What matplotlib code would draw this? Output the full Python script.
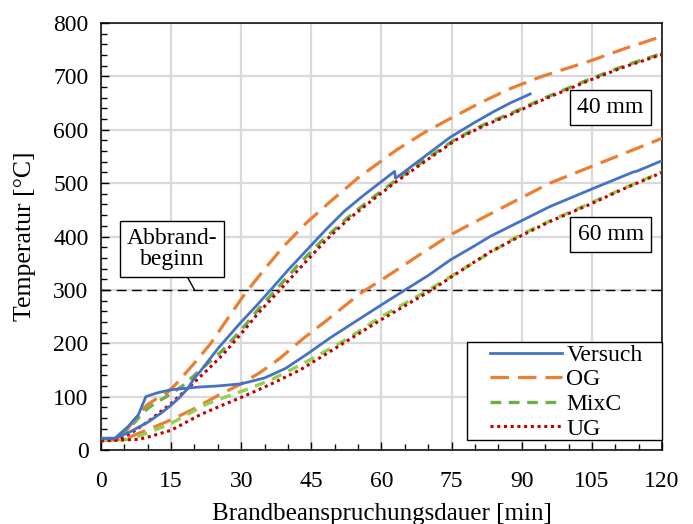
import matplotlib
matplotlib.use('Agg')
import matplotlib.pyplot as plt
from matplotlib.patches import Rectangle
from matplotlib.ticker import MultipleLocator

plt.rcParams['font.family'] = ['Liberation Serif', 'DejaVu Serif']
plt.rcParams['font.size'] = 17

# Messwerte / Simulation, 40 mm Tiefe
t_v40 = [0, 3, 6, 10, 13, 15, 17, 18.6, 20, 21.2, 25, 29.7, 33, 36.1, 40, 44.7, 48, 52, 56, 60,
         62.8, 63.0, 65, 70, 74.7, 80, 84, 87.5, 91.8]
T_v40 = [22, 22, 33, 52, 70, 84, 100, 116, 135, 147, 190, 237, 268, 298, 337, 381, 412, 447, 476, 503,
         522, 509, 522, 555, 586, 614, 634, 650, 667]

t_og40 = [0, 3, 5, 7, 9.8, 12, 14, 16.2, 20, 23.5, 27, 30.8, 35, 39, 44, 49, 55, 63.2, 69, 74.7,
          81, 87.5, 94, 100, 105, 112, 120]
T_og40 = [18, 19, 31, 55, 84, 97, 106, 125, 163, 200, 245, 293, 339, 381, 426, 465, 510, 562, 594, 621,
          650, 677, 699, 716, 730, 752, 775]

t_mx40 = [0, 3, 6, 8, 10, 12, 14, 17.3, 21, 25.8, 30, 33.5, 37.4, 42, 47, 52.6, 58, 63.2, 70, 76.1,
          82, 87.5, 95, 104.6, 112, 120]
T_mx40 = [20, 22, 40, 60, 78, 90, 100, 119, 148, 185, 225, 262, 300, 345, 390, 434, 472, 506, 548, 584,
          610, 630, 660, 695, 720, 743]

t_ug40 = [0, 4, 7, 10, 12.5, 15, 17.5, 20.1, 23, 26.2, 30, 34, 38.3, 43, 48, 52.6, 58, 63.2, 70, 76.1,
          82, 87.5, 95, 104.6, 112, 120]
T_ug40 = [18, 20, 35, 53, 70, 87, 107, 128, 152, 180, 218, 260, 300, 345, 392, 430, 468, 503, 545, 582,
          608, 628, 658, 693, 718, 741]

# 60 mm Tiefe
t_v60 = [0, 3, 5.8, 8, 9.6, 12, 15, 18.6, 21, 25, 30, 35, 39.5, 44.3, 49, 54.3, 60, 64.7, 70, 74.7,
         80, 83.2, 89.6, 96, 105, 110, 113.9, 114.5, 120]
T_v60 = [22, 22, 44, 66, 100, 107, 113, 116, 118, 120, 124, 135, 153, 181, 210, 240, 272, 298, 327, 356,
         383, 400, 428, 456, 489, 507, 521, 522, 542]

t_og60 = [0, 5, 8, 10, 15.1, 19.4, 25, 30, 34, 38.3, 43, 48.3, 55.4, 62, 68, 74.7, 81, 88.9, 96,
          104, 112, 120]
T_og60 = [18, 20, 31, 38, 57, 75, 102, 124, 145, 172, 207, 243, 293, 330, 365, 403, 432, 468, 500,
          528, 556, 584]

t_mx60 = [0, 6, 10, 15, 22.6, 26.5, 30.4, 36, 42.6, 48, 52.6, 60, 69.7, 78, 89.6, 96, 104, 112, 120]
T_mx60 = [18, 20, 32, 50, 86, 99, 111, 130, 159, 185, 208, 250, 298, 342, 403, 429, 460, 491, 521]

t_ug60 = [0, 8, 10, 15, 21.2, 26.5, 30.4, 36, 42.6, 50, 59.7, 70.4, 77, 83.2, 90, 96, 104, 112, 120]
T_ug60 = [17, 20, 24, 37, 66, 86, 100, 122, 150, 190, 243, 298, 336, 371, 402, 428, 458, 490, 520]

abbrand_T = 300

c_versuch = '#4472C4'
c_og = '#ED7D31'
c_mx40 = '#70AD47'
c_mx60 = '#92D050'
c_ug = '#C00000'

fig = plt.figure(figsize=(6.93, 5.24), dpi=100)
ax = fig.add_axes([0.1457, 0.1412, 0.8096, 0.8149])

# Abbrandbeginn
ax.axhline(abbrand_T, color='black', lw=1.0, dashes=(7, 4), zorder=2)

og_kw = dict(color=c_og, lw=2.3, dashes=(5.8, 2.8))
mx_kw = dict(lw=2.4, dashes=(3.2, 2.3))
ug_kw = dict(color=c_ug, lw=2.2, dashes=(1, 1.2))
v_kw = dict(color=c_versuch, lw=2.0)

ax.plot(t_og40, T_og40, **og_kw, zorder=3)
ax.plot(t_og60, T_og60, **og_kw, zorder=3)
ax.plot(t_mx40, T_mx40, color=c_mx40, **mx_kw, zorder=4)
ax.plot(t_mx60, T_mx60, color=c_mx60, **mx_kw, zorder=4)
ax.plot(t_ug40, T_ug40, **ug_kw, zorder=5)
ax.plot(t_ug60, T_ug60, **ug_kw, zorder=5)
ax.plot(t_v40, T_v40, **v_kw, zorder=6)
ax.plot(t_v60, T_v60, **v_kw, zorder=6)

# legend: frame drawn separately so the side padding can be wider than top/bottom
h_v, = ax.plot([], [], **v_kw)
h_og, = ax.plot([], [], **og_kw)
h_mx, = ax.plot([], [], color=c_mx40, **mx_kw)
h_ug, = ax.plot([], [], **ug_kw)
ax.add_patch(Rectangle((0.652, 0.0234), 0.348, 0.2295, transform=ax.transAxes,
                       fc='white', ec='black', lw=1.0, zorder=9, clip_on=False))
leg = ax.legend([h_v, h_og, h_mx, h_ug], ['Versuch', 'OG', 'MixC', 'UG'],
                loc='center', bbox_to_anchor=(0.829, 0.136), frameon=False,
                handlelength=3.05, handletextpad=0.2, labelspacing=0.13,
                borderpad=0.0, borderaxespad=0.0, fontsize=17)
leg.set_zorder(10)

box = dict(boxstyle='square,pad=0.3', fc='white', ec='black', lw=1.0)
ax.text(109, 642, '40 mm', ha='center', va='center', bbox=box, zorder=8)
ax.text(109, 403, '60 mm', ha='center', va='center', bbox=box, zorder=8)
ax.annotate('Abbrand-\nbeginn', xy=(20, abbrand_T), xytext=(15.2, 376),
            ha='center', va='center', linespacing=1.0, bbox=box, zorder=8,
            arrowprops=dict(arrowstyle='-', color='black', lw=1.0, shrinkA=0, shrinkB=0))

ax.set_xlim(0, 120)
ax.set_ylim(0, 800)
ax.xaxis.set_major_locator(MultipleLocator(15))
ax.xaxis.set_minor_locator(MultipleLocator(5))
ax.yaxis.set_major_locator(MultipleLocator(100))
ax.yaxis.set_minor_locator(MultipleLocator(20))
ax.grid(True, which='major', color='#D9D9D9', lw=1.6, zorder=0)
ax.set_axisbelow(True)
ax.tick_params(which='both', direction='in', top=False, right=False, width=1.0, color='black')
ax.tick_params(which='major', length=6)
ax.tick_params(which='minor', length=4)
ax.tick_params(axis='x', which='major', pad=15)
ax.tick_params(axis='y', which='major', pad=9)
for s in ax.spines.values():
    s.set_linewidth(1.1)

ax.set_xlabel('Brandbeanspruchungsdauer [min]', fontsize=18, labelpad=8)
ax.set_ylabel('Temperatur [°C]', fontsize=18.5, labelpad=12)

fig.savefig('out.png', dpi=100)
